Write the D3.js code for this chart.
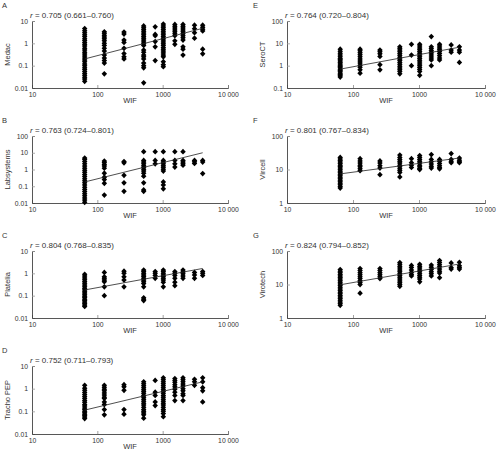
<!DOCTYPE html>
<html>
<head>
<meta charset="utf-8">
<script src="https://cdn.jsdelivr.net/npm/d3@7"></script>
<style>
  html, body { margin: 0; padding: 0; background: #fff; }
  svg { display: block; font-family: "Liberation Sans", Arial, sans-serif; }
</style>
</head>
<body>
<svg id="chart" width="497" height="453"></svg>
<script>
// ---------- DATA ----------
const wifTicks = [10, 100, 1000, 10000];
const wifTickLabels = ["10", "100", "1000", "10 000"];

const ticksLow = [0.01, 0.1, 1, 10];
const ticksLowLabels = ["0.01", "0.1", "1", "10"];
const ticksWide = [0.01, 0.1, 1, 10, 100];
const ticksWideLabels = ["0.01", "0.1", "1", "10", "100"];
const ticksSero = [0.1, 1, 10, 100];
const ticksSeroLabels = ["0.1", "1", "10", "100"];
const ticksHigh = [1, 10, 100];
const ticksHighLabels = ["1", "10", "100"];

const panelLetters = ["A", "B", "C", "D", "E", "F", "G"];
const assayNames = ["Medac", "Labsystems", "Platelia", "Tracho PEP", "SeroCT", "Vircell", "Virotech"];
const correlationTexts = [
  "0.705 (0.661\u20130.760)",
  "0.763 (0.724\u20130.801)",
  "0.804 (0.768\u20130.835)",
  "0.752 (0.711\u20130.793)",
  "0.764 (0.720\u20130.804)",
  "0.801 (0.767\u20130.834)",
  "0.824 (0.794\u20130.852)"
];

// each series: [WIF titre, [assay values]]
const medac = [
  [64, [0.02, 0.025, 0.03, 0.037, 0.045, 0.055, 0.068, 0.08, 0.1, 0.12, 0.15, 0.18, 0.22, 0.27, 0.33, 0.4, 0.5, 0.6, 0.75, 0.9, 1.1, 1.35, 1.6, 2.0, 2.4, 3.0, 3.7, 4.6]],
  [128, [3.3, 2.8, 2.3, 1.9, 1.6, 1.3, 1.0, 0.8, 0.6, 0.45, 0.3, 0.22, 0.17, 0.13, 0.043]],
  [256, [3.2, 2.6, 1.4, 1.1, 0.6, 0.35, 0.25, 0.2]],
  [512, [6.0, 5.0, 4.2, 3.5, 2.9, 2.4, 2.0, 1.7, 1.4, 1.15, 0.95, 0.8, 0.5, 0.4, 0.3, 0.25, 0.2, 0.13, 0.1, 0.08, 0.017]],
  [768, [5.5, 2.5, 2.2, 1.2, 0.7, 0.17]],
  [1024, [7.3, 6.0, 5.0, 4.2, 3.5, 2.9, 2.4, 2.0, 1.7, 1.4, 1.15, 0.95, 0.8, 0.65, 0.55, 0.45, 0.37, 0.3, 0.25, 0.15, 0.11, 0.09]],
  [1536, [7.0, 5.8, 4.8, 4.0, 3.3, 2.7, 2.2, 1.3, 0.9]],
  [2048, [7.0, 5.8, 4.8, 4.0, 3.3, 2.7, 2.2, 1.8, 1.4, 0.7, 0.55, 0.3]],
  [3072, [6.5, 4.5, 3.0, 1.7]],
  [4096, [6.5, 5.2, 4.3, 3.6, 0.55, 0.34]]
];
const labsystems = [
  [64, [0.011, 0.015, 0.02, 0.027, 0.036, 0.048, 0.065, 0.087, 0.12, 0.16, 0.21, 0.28, 0.38, 0.5, 0.68, 0.9, 1.2, 1.6, 2.2, 3.0, 4.0, 4.8]],
  [128, [3.2, 2.6, 2.0, 1.6, 1.2, 0.6, 0.35, 0.25, 0.15, 0.03]],
  [256, [3.0, 2.5, 0.45, 0.16, 0.05]],
  [512, [11.5, 3.5, 2.8, 2.2, 1.7, 1.35, 1.05, 0.8, 0.6, 0.4, 0.16, 0.06, 0.05]],
  [768, [11.5, 3.5, 2.2]],
  [1024, [11.5, 3.5, 2.8, 2.2, 1.7, 1.35, 1.05, 0.8, 0.18, 0.12, 0.07]],
  [1536, [11.5, 3.5, 2.2, 1.4]],
  [2048, [11.5, 3.5, 2.8, 2.2, 1.8]],
  [3072, [3.5, 2.9, 2.3]],
  [4096, [3.5, 2.8, 0.57]]
];
const platelia = [
  [64, [0.033, 0.038, 0.045, 0.052, 0.06, 0.07, 0.082, 0.095, 0.11, 0.13, 0.15, 0.18, 0.21, 0.25, 0.3, 0.36, 0.43, 0.52, 0.62, 0.75, 0.9]],
  [128, [1.1, 0.7, 0.6, 0.5, 0.42, 0.25, 0.1]],
  [256, [1.25, 1.0, 0.7, 0.5, 0.25]],
  [512, [1.4, 1.2, 1.0, 0.85, 0.72, 0.6, 0.5, 0.42, 0.35, 0.25, 0.08, 0.07, 0.06]],
  [768, [1.2, 1.0, 0.8, 0.6]],
  [1024, [1.4, 1.2, 1.0, 0.85, 0.72, 0.6, 0.5, 0.4, 0.25]],
  [1536, [1.2, 1.0, 0.8, 0.6, 0.4, 0.28]],
  [2048, [1.4, 1.15, 0.95, 0.75, 0.6]],
  [3072, [1.1, 0.85, 0.6]],
  [4096, [1.2, 1.0, 0.8]]
];
const trachoPep = [
  [64, [0.048, 0.056, 0.065, 0.075, 0.087, 0.1, 0.12, 0.14, 0.17, 0.2, 0.25, 0.3, 0.37, 0.45, 0.55, 0.68, 0.85, 1.05, 1.4]],
  [128, [1.4, 1.15, 0.95, 0.8, 0.65, 0.52, 0.42, 0.37, 0.26, 0.2, 0.12, 0.07]],
  [256, [1.5, 1.2, 0.85, 0.12, 0.075]],
  [512, [2.0, 1.65, 1.35, 1.1, 0.9, 0.75, 0.62, 0.5, 0.42, 0.34, 0.28, 0.23, 0.19, 0.15, 0.12, 0.1, 0.085, 0.07, 0.05]],
  [768, [2.3, 0.7, 0.5, 0.26, 0.18]],
  [1024, [3.0, 2.5, 2.0, 1.65, 1.35, 1.1, 0.9, 0.75, 0.62, 0.5, 0.42, 0.34, 0.28, 0.23, 0.19, 0.15, 0.12, 0.1, 0.08, 0.058]],
  [1536, [2.8, 2.3, 1.9, 1.5, 1.2, 0.95, 0.7, 0.5, 0.3]],
  [2048, [3.0, 2.5, 2.0, 1.6, 1.3, 1.0, 0.8, 0.6, 0.5, 0.3]],
  [3072, [2.6, 2.0, 1.4]],
  [4096, [3.0, 2.0, 1.1, 0.8, 0.26]]
];
const seroCT = [
  [64, [0.31, 0.35, 0.4, 0.46, 0.53, 0.6, 0.7, 0.8, 0.92, 1.05, 1.2, 1.4, 1.6, 1.85, 2.1, 2.5, 3.0, 3.6, 4.4, 5.5]],
  [128, [5.5, 4.6, 3.8, 3.1, 2.5, 2.0, 1.6, 1.3, 1.05, 0.85, 0.65, 0.46]],
  [256, [5.0, 4.2, 3.4, 2.6, 1.1, 0.65]],
  [512, [7.0, 6.0, 5.0, 4.2, 3.5, 2.9, 2.4, 2.0, 1.7, 1.4, 1.15, 0.95, 0.78, 0.65, 0.55, 0.43]],
  [768, [9.0, 3.0, 1.0]],
  [1024, [9.0, 7.5, 6.2, 5.2, 4.3, 3.6, 3.0, 2.5, 2.1, 1.75, 1.45, 1.2, 1.0, 0.82, 0.68, 0.55, 0.37]],
  [1536, [20, 7.0, 5.8, 4.8, 4.0, 3.3, 2.7, 2.2, 1.8, 1.0]],
  [2048, [9.0, 7.5, 6.2, 5.2, 4.3, 3.5, 2.8, 2.2, 1.8]],
  [3072, [8.5, 5.0, 4.0]],
  [4096, [7.0, 5.0, 4.0, 1.4]]
];
const vircell = [
  [64, [2.8, 3.1, 3.5, 3.9, 4.3, 4.8, 5.3, 5.9, 6.5, 7.2, 8.0, 8.9, 9.9, 11, 12.2, 13.5, 15, 16.7, 18.5, 20.5, 23]],
  [128, [21, 18, 15.5, 13.5, 12, 10.5, 9.2]],
  [256, [18, 15.5, 13, 11, 7.0]],
  [512, [27, 23, 20, 17.5, 15.5, 13.5, 12, 10.5, 9.3, 8.2, 6.0]],
  [768, [21, 16, 13.5, 11.5]],
  [1024, [26, 23, 20, 17.5, 15.5, 13.5, 12, 10.8, 10]],
  [1536, [28, 20, 17, 14.5, 12.5, 11]],
  [2048, [20, 17.5, 15, 13, 11.5, 10.5]],
  [3072, [30, 20, 17.5, 16]],
  [4096, [22, 19, 17, 16]]
];
const virotech = [
  [64, [2.4, 2.7, 3.0, 3.4, 3.8, 4.2, 4.7, 5.3, 5.9, 6.6, 7.4, 8.3, 9.3, 10.4, 11.6, 13, 14.5, 16.2, 18, 20, 22.5, 25, 28]],
  [128, [30, 26, 22.5, 19.5, 17, 15, 13, 11.5, 10, 5.5]],
  [256, [30, 26, 22.5, 19.5, 17, 15]],
  [512, [45, 40, 35, 31, 27, 24, 21, 18.5, 16.5, 14.5, 12.8, 11.3, 10, 8.8]],
  [768, [37, 32, 27, 23, 20, 18]],
  [1024, [40, 35, 31, 27, 24, 21, 18.5, 16.5, 14.5, 12]],
  [1536, [38, 33, 28, 24, 21, 18]],
  [2048, [52, 45, 39, 34, 29, 25, 22, 16]],
  [3072, [44, 32, 29]],
  [4096, [46, 36, 32, 29]]
];

// regression lines: [[WIF start, value], [WIF end, value]]
const medacFit = [[64, 0.2], [4096, 4.7]];
const labsystemsFit = [[64, 0.18], [4096, 10]];
const plateliaFit = [[64, 0.18], [4096, 1.65]];
const trachoPepFit = [[64, 0.113], [4096, 2.0]];
const seroCTFit = [[64, 0.7], [4096, 6.7]];
const vircellFit = [[64, 7.4], [4096, 22]];
const virotechFit = [[64, 9.8], [4096, 41]];

// ---------- LAYOUT ----------
const colX = [[32, 228], [287, 485]];
const rowY = [[21, 88], [136, 203], [251, 318], [366, 434]];

const panels = [
  { data: medac, fit: medacFit, ticks: ticksLow, labels: ticksLowLabels, col: 0, row: 0 },
  { data: labsystems, fit: labsystemsFit, ticks: ticksWide, labels: ticksWideLabels, col: 0, row: 1 },
  { data: platelia, fit: plateliaFit, ticks: ticksLow, labels: ticksLowLabels, col: 0, row: 2 },
  { data: trachoPep, fit: trachoPepFit, ticks: ticksLow, labels: ticksLowLabels, col: 0, row: 3 },
  { data: seroCT, fit: seroCTFit, ticks: ticksSero, labels: ticksSeroLabels, col: 1, row: 0 },
  { data: vircell, fit: vircellFit, ticks: ticksHigh, labels: ticksHighLabels, col: 1, row: 1 },
  { data: virotech, fit: virotechFit, ticks: ticksHigh, labels: ticksHighLabels, col: 1, row: 2 }
];

const svg = d3.select("#chart");
const textColor = "#333";
const axisColor = "#444";

const diamond = {
  draw(ctx, size) {
    const r = Math.sqrt(size / 2);
    ctx.moveTo(0, -r * 1.05);
    ctx.lineTo(r, 0);
    ctx.lineTo(0, r * 1.05);
    ctx.lineTo(-r, 0);
    ctx.closePath();
  }
};
const sym = d3.symbol().type(diamond).size(15);

panels.forEach((p, i) => {
  const [x0, x1] = colX[p.col];
  const [y0, y1] = rowY[p.row];
  const x = d3.scaleLog().domain([10, 10000]).range([x0, x1]);
  const yDom = [p.ticks[0], p.ticks[p.ticks.length - 1]];
  const y = d3.scaleLog().domain(yDom).range([y1, y0]);

  const g = svg.append("g");

  g.append("text")
    .attr("x", p.col === 0 ? 2 : 253)
    .attr("y", y0 - 16)
    .attr("dy", "0.35em")
    .attr("font-size", 7.5)
    .attr("fill", textColor)
    .text(panelLetters[i]);

  const rt = g.append("text")
    .attr("x", x0 - 2)
    .attr("y", y0 - 6)
    .attr("dy", "0.35em")
    .attr("font-size", 8)
    .attr("fill", textColor);
  rt.append("tspan").attr("font-style", "italic").text("r");
  rt.append("tspan").text(" = " + correlationTexts[i]);

  const yAxis = d3.axisRight(y)
    .tickValues(p.ticks)
    .tickFormat((d, k) => p.labels[k])
    .tickSize(3)
    .tickPadding(0);
  const ya = g.append("g").attr("transform", `translate(${x0},0)`).call(yAxis);
  ya.select(".domain").attr("stroke", axisColor).attr("stroke-width", 0.9);
  ya.selectAll(".tick line").attr("stroke", "#999").attr("stroke-width", 0.8);
  ya.selectAll(".tick text")
    .attr("x", -4)
    .attr("text-anchor", "end")
    .attr("font-size", 6.8)
    .attr("fill", textColor)
    .attr("font-family", null);

  const xAxis = d3.axisTop(x)
    .tickValues(wifTicks)
    .tickFormat((d, k) => wifTickLabels[k])
    .tickSize(3);
  const xa = g.append("g").attr("transform", `translate(0,${y1})`).call(xAxis);
  xa.select(".domain").attr("stroke", axisColor).attr("stroke-width", 0.9);
  xa.selectAll(".tick line").attr("stroke", "#888").attr("stroke-width", 0.8);
  xa.selectAll(".tick line").filter(d => d === 10).remove();
  xa.selectAll(".tick text")
    .attr("y", 6.5)
    .attr("dy", "0.35em")
    .attr("font-size", 6.8)
    .attr("fill", textColor)
    .attr("font-family", null);

  g.append("text")
    .attr("x", (x0 + x1) / 2)
    .attr("y", y1 + 12.5)
    .attr("dy", "0.35em")
    .attr("text-anchor", "middle")
    .attr("font-size", 7.5)
    .attr("fill", textColor)
    .text("WIF");

  g.append("text")
    .attr("transform", `translate(${x0 - 25},${(y0 + y1) / 2}) rotate(-90)`)
    .attr("dy", "0.35em")
    .attr("text-anchor", "middle")
    .attr("font-size", 7.5)
    .attr("fill", textColor)
    .text(assayNames[i]);

  const pts = [];
  p.data.forEach(([w, vals]) => vals.forEach(v => pts.push([w, v])));
  g.append("g").selectAll("path")
    .data(pts)
    .join("path")
    .attr("d", sym)
    .attr("transform", d => `translate(${x(d[0])},${y(d[1])})`)
    .attr("fill", "#000");

  g.append("path")
    .datum(p.fit)
    .attr("d", d3.line().x(d => x(d[0])).y(d => y(d[1])))
    .attr("stroke", "#222")
    .attr("stroke-width", 0.8)
    .attr("fill", "none");
});
</script>
</body>
</html>
